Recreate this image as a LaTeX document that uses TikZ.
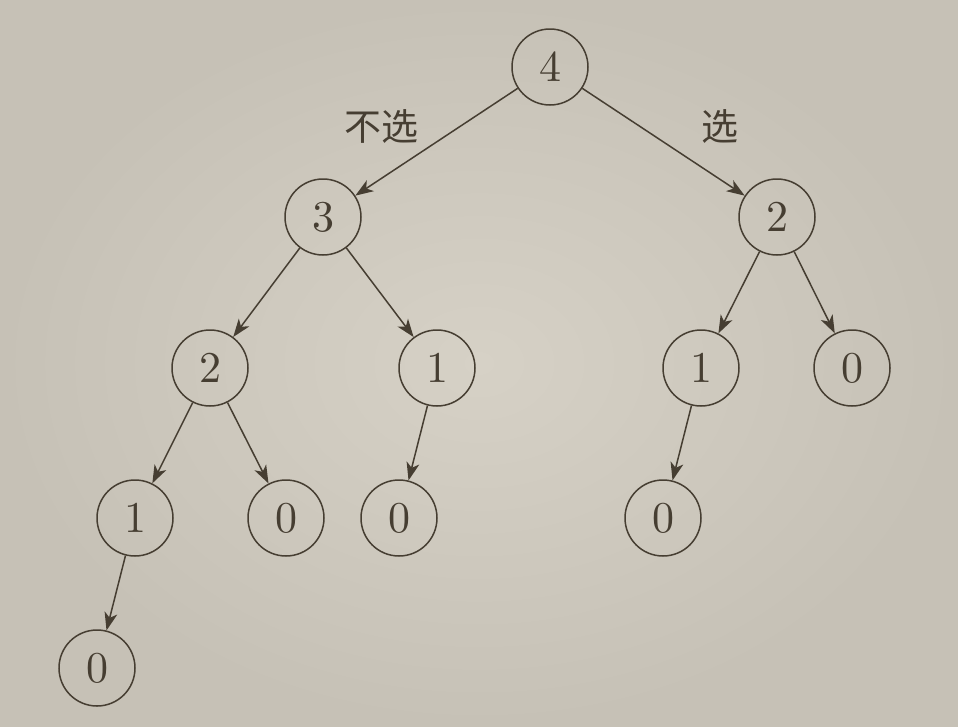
\documentclass[tikz,border=0pt]{standalone}
\usepackage{fontspec}
\newfontfamily\cjk{Noto Sans CJK SC}
\newfontfamily\dg[Extension=.otf]{lmroman10-regular}
\usetikzlibrary{arrows.meta}
\definecolor{ink}{HTML}{463E32}
\definecolor{bgin}{HTML}{D6D1C6}
\definecolor{bgout}{HTML}{C6C1B6}
\begin{document}
\begin{tikzpicture}[x=1pt,y=-1pt,
  tn/.style={circle,draw=ink,line width=1.5pt,minimum size=76pt,inner sep=0pt,text=ink,font=\dg\fontsize{44}{44}\selectfont},
  edge/.style={draw=ink,line width=1.5pt,-{Stealth[length=18pt,width=13pt,inset=5pt]}},
  lab/.style={text=ink,font=\cjk\fontsize{37}{37}\selectfont}]
\useasboundingbox (0,0) rectangle (958,726);
\shade[inner color=bgin,outer color=bgout] (0,0) rectangle (958,726);
\node[tn] (a) at (550,67) {4};
\node[tn] (b) at (323,217) {3};
\node[tn] (c) at (777,217) {2};
\node[tn] (d) at (210,368) {2};
\node[tn] (e) at (437,368) {1};
\node[tn] (f) at (701,368) {1};
\node[tn] (g) at (852,368) {0};
\node[tn] (h) at (135,518) {1};
\node[tn] (i) at (286,518) {0};
\node[tn] (j) at (399,518) {0};
\node[tn] (k) at (663,518) {0};
\node[tn] (l) at (97,668) {0};
\node[lab] (n1) at (381,127) {不选};
\node[lab] (n2) at (720,127) {选};
\draw[edge] (a) -- (b);
\draw[edge] (a) -- (c);
\draw[edge] (b) -- (d);
\draw[edge] (b) -- (e);
\draw[edge] (c) -- (f);
\draw[edge] (c) -- (g);
\draw[edge] (d) -- (h);
\draw[edge] (d) -- (i);
\draw[edge] (e) -- (j);
\draw[edge] (f) -- (k);
\draw[edge] (h) -- (l);
\end{tikzpicture}
\end{document}
